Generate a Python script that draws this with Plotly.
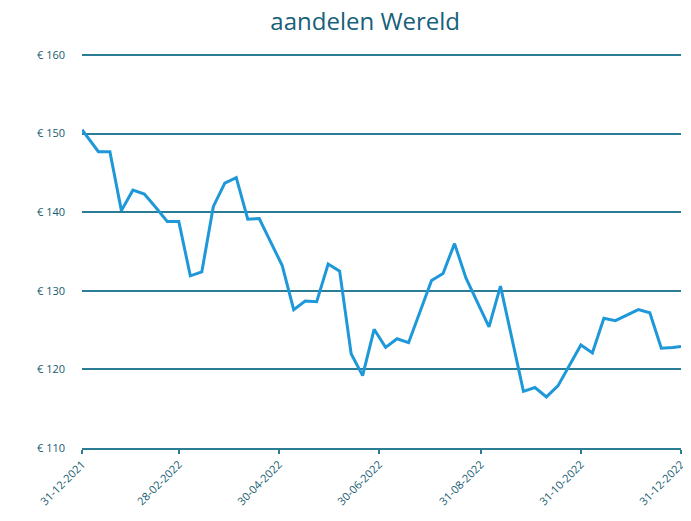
import plotly.graph_objects as go

dates = [
    "2021-12-31", "2022-01-03", "2022-01-10", "2022-01-17", "2022-01-24", "2022-01-31",
    "2022-02-07", "2022-02-14", "2022-02-21", "2022-02-28", "2022-03-07", "2022-03-14",
    "2022-03-21", "2022-03-28", "2022-04-04", "2022-04-11", "2022-04-18", "2022-04-25",
    "2022-05-02", "2022-05-09", "2022-05-16", "2022-05-23", "2022-05-30", "2022-06-06",
    "2022-06-13", "2022-06-20", "2022-06-27", "2022-07-04", "2022-07-11", "2022-07-18",
    "2022-07-25", "2022-08-01", "2022-08-08", "2022-08-15", "2022-08-22", "2022-08-29",
    "2022-09-05", "2022-09-12", "2022-09-19", "2022-09-26", "2022-10-03", "2022-10-10",
    "2022-10-17", "2022-10-24", "2022-10-31", "2022-11-07", "2022-11-14", "2022-11-21",
    "2022-11-28", "2022-12-05", "2022-12-12", "2022-12-19", "2022-12-26", "2022-12-31",
]
values = [
    150.5, 149.7, 147.7, 147.7, 140.2, 142.8,
    142.3, 140.6, 138.8, 138.8, 131.9, 132.4,
    140.7, 143.7, 144.4, 139.1, 139.2, 136.2,
    133.2, 127.6, 128.7, 128.6, 133.4, 132.5,
    122.0, 119.2, 125.1, 122.8, 123.9, 123.4,
    127.3, 131.3, 132.2, 136.0, 131.6, 128.5,
    125.4, 130.6, 123.8, 117.2, 117.7, 116.5,
    117.9, 120.6, 123.1, 122.1, 126.5, 126.2,
    126.9, 127.6, 127.2, 122.7, 122.8, 122.9,
]
tick_dates = ["2021-12-31", "2022-02-28", "2022-04-30", "2022-06-30",
              "2022-08-31", "2022-10-31", "2022-12-31"]
tick_labels = ["31-12-2021", "28-02-2022", "30-04-2022", "30-06-2022",
               "31-08-2022", "31-10-2022", "31-12-2022"]
y_ticks = [110, 120, 130, 140, 150, 160]
y_labels = ["€ 110", "€ 120", "€ 130", "€ 140", "€ 150", "€ 160"]

teal = "#2a7d95"
text_col = "#145a70"

fig = go.Figure()
fig.add_trace(go.Scatter(
    x=dates, y=values, mode="lines",
    line=dict(color="#1e98d8", width=3),
    hoverinfo="x+y", showlegend=False,
))

fig.update_layout(
    width=683, height=513,
    margin=dict(l=74, r=10, t=45, b=73),
    paper_bgcolor="white", plot_bgcolor="white",
    font=dict(family="Open Sans", color=text_col, size=11),
    title=dict(text="aandelen Wereld", x=0.523, xanchor="center", y=0.989, yanchor="top",
               font=dict(size=24, color="#17607a", family="Open Sans")),
)
fig.update_xaxes(
    type="date", range=["2021-12-31", "2022-12-31"], automargin=False,
    tickvals=tick_dates, ticktext=tick_labels, tickangle=-45,
    showgrid=False, showline=True, linecolor=teal, linewidth=1.5,
    ticks="outside", ticklen=4, tickcolor=teal, tickwidth=1.5,
    tickfont=dict(size=11, color=text_col),
    zeroline=False,
)
fig.update_yaxes(
    range=[110, 160.25], tickvals=y_ticks, ticktext=y_labels, automargin=False,
    showgrid=True, gridcolor=teal, gridwidth=1.5,
    showline=False, zeroline=False, ticks="",
    ticklabelstandoff=16,
    tickfont=dict(size=11, color=text_col),
)

fig.write_html("out.html")
